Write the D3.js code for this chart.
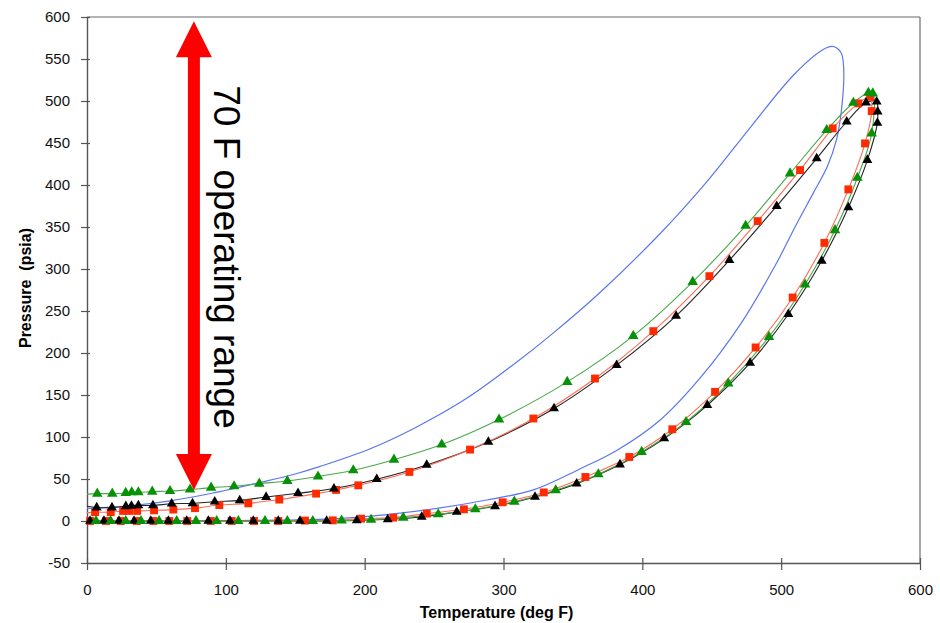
<!DOCTYPE html>
<html>
<head>
<meta charset="utf-8">
<script src="https://cdn.jsdelivr.net/npm/d3@7"></script>
<style>
  body { margin: 0; background: #fff; }
  svg text { font-family: "Liberation Sans", Arial, sans-serif; }
</style>
</head>
<body>
<script>
// measured loops: upper branch, then down the right side, then back along P=0
const redT = [5.8,17.1,26,30.3,36.1,48.3,62.2,77.8,95.3,116.2,138.5,165,179.4,195.4,232.2,275.9,321.5,365.9,407.9,448.3,483.1,513.6,537.1,555.6,564,
  565.2,560.4,548.4,531.1,508.3,481.6,452.4,421.6,390.6,359,329,299.4,271.5,244.7,220.6,197.4,177,157,137.8,120.3,104.2,89.1,72.2,59.3,47.8,35.8,24.3,13.7,2.2];
const redP = [10.5,10.5,12,12,12,12.7,13.6,15.3,19,21,25.5,32.6,37,42.5,58.4,85,122,169.6,226,291.5,357,417.8,467.4,497.2,505,
  488,449.5,394.8,331.1,266.1,206.6,153.7,109.2,76.2,52.4,34,22.3,13.9,8.8,4,2.8,0.8,0.5,0,0,0,0,0,0,0,0,0,0,0];

const blackT = [7,18,28,32,37,47.5,61,76,92,110,129,152,177.9,208.7,244.7,289.1,336.4,381.5,424.3,462.7,496.8,525.6,547.2,561.1,568.8,
  569.5,569.3,562.1,548.4,529.2,505.2,477.6,446.8,415.8,383.9,352.7,322.7,293.9,266.3,241.1,216.6,194.3,172.6,153.4,137.8,119.8,103,87.4,71.8,58.6,45.9,33.9,23,12.2,2.2];
const blackP = [16,16,17.5,18,18.5,18.5,20.5,21,23,24.5,28.5,33,38.6,49.7,66.7,94.1,133.9,185.5,244.2,310.5,374.9,431.7,475.3,497.9,499.1,
  487.2,474,429.7,373.3,309.7,246.2,188.2,137.8,98.2,67.2,44.5,28.6,17.5,10.7,4.8,2,0.8,0,0,0,0,0,0,0,0,0,0,0,0,0];

const greenT = [7.4,18.2,27.9,32.2,37,47,59.8,74.2,89.4,105.9,124.1,144.3,166.4,191.8,221.1,255.5,296.8,345.9,393.5,436.3,474.4,506.4,532.8,552,562.8,566,
  565.2,554.9,538.8,517.2,491.2,461.9,431.5,399.5,368.3,337.6,307.8,279.7,253,227.8,204.6,183.4,162.6,144.3,128.2,109,93.4,78.5,64.6,51.9,38.9,27.9,17,6.5];
const greenP = [32.6,32.6,33.4,34.2,34.2,35,35.7,37.4,39.7,41.3,44.5,47.6,53,60.4,73,91,120.8,165.6,220.4,284.7,351.4,413.8,465.4,497.9,509.8,509,
  461.5,408.6,346.3,281.6,219.2,163.7,117.9,82.2,55.6,36.6,23,13.9,8,4,1.5,0.5,0,0,0,0,0,0,0,0,0,0,0,0];

// pressure where each fitted line meets the T=0 axis on the upper branch
const lineStartP = { red: 10, black: 17.5, green: 32 };

// model curve (no markers)
const blueT = [0,30,60,90,125,150,168,204,237.5,273.5,307,336,369.5,412.7,447,478,509,530,537,543,545,544,540,533,523,510,496,471,441.5,412.7,381.5,355,321.5,288,252,216,180,140,90,40,0];
const blueP = [15,18,24,33,46,56,65,86,112,146,186,224,272,342,405,469,531,561,565,558,540,498,455,421,390,350,305,235,170,120,84,62,37,25,15,7.6,2.8,1,0.3,0,0];

const xTicks = [0,100,200,300,400,500,600];
const yTicks = [-50,0,50,100,150,200,250,300,350,400,450,500,550,600];

// operating range arrow
const arrowT = 77;
const arrowLow = 37;
const arrowHigh = 595;
const arrowLabel = "70 F operating range";

const W = 940, H = 623;
const plot = {left: 87, right: 920, top: 17, bottom: 563};

const x = d3.scaleLinear().domain([0, 600]).range([plot.left, plot.right]);
const y = d3.scaleLinear().domain([-50, 600]).range([plot.bottom, plot.top]);

const svg = d3.select("body").append("svg")
  .attr("width", W)
  .attr("height", H);

// frame top/right
svg.append("line")
  .attr("x1", x(0)).attr("x2", x(600)).attr("y1", y(600)).attr("y2", y(600))
  .attr("stroke", "#6b6b6b").attr("stroke-width", 1.2);
svg.append("line")
  .attr("x1", x(600)).attr("x2", x(600)).attr("y1", y(600)).attr("y2", y(-50))
  .attr("stroke", "#6b6b6b").attr("stroke-width", 1.2);

const plain = d => String(d);

const xAxis = svg.append("g")
  .attr("transform", `translate(0,${plot.bottom})`)
  .call(d3.axisBottom(x).tickValues(xTicks).tickFormat(plain).tickSizeInner(7).tickSizeOuter(0).tickPadding(14));
xAxis.selectAll(".tick line").attr("y1", -5);

const yAxis = svg.append("g")
  .attr("transform", `translate(${plot.left},0)`)
  .call(d3.axisLeft(y).tickValues(yTicks).tickFormat(plain).tickSizeInner(6).tickSizeOuter(0).tickPadding(11));
yAxis.selectAll(".tick line").attr("x1", 3);

svg.selectAll(".domain").attr("stroke", "#555").attr("stroke-width", 1.4);
svg.selectAll(".tick line").attr("stroke", "#555").attr("stroke-width", 1.2);
svg.selectAll(".tick text").attr("font-size", 15).attr("fill", "#111")
  .style("font-family", "'Liberation Sans', Arial, sans-serif");

svg.append("text")
  .attr("x", (plot.left + plot.right) / 2 - 7)
  .attr("y", 618)
  .attr("text-anchor", "middle")
  .attr("font-size", 16)
  .attr("font-weight", "bold")
  .text("Temperature (deg F)");

svg.append("text")
  .attr("transform", `translate(31,${(plot.top + plot.bottom) / 2 - 2}) rotate(-90)`)
  .attr("text-anchor", "middle")
  .attr("font-size", 16)
  .attr("font-weight", "bold")
  .style("white-space", "pre")
  .text("Pressure  (psia)");

const zip = (ts, ps) => ts.map((t, i) => [t, ps[i]]);

const line = d3.line()
  .x(d => x(d[0]))
  .y(d => y(d[1]))
  .curve(d3.curveCatmullRom.alpha(0.5));

// blue model loop
svg.append("path")
  .attr("d", line(zip(blueT, blueP)))
  .attr("fill", "none")
  .attr("stroke", "#5b76f0")
  .attr("stroke-width", 1.2);

const series = [
  {key: "black", pts: zip(blackT, blackP), stroke: "#222", fill: "#000", shape: d3.symbolTriangle, size: 42},
  {key: "red", pts: zip(redT, redP), stroke: "#ff6a55", fill: "#ff2a00", shape: d3.symbolSquare, size: 62},
  {key: "green", pts: zip(greenT, greenP), stroke: "#4aa84a", fill: "#079107", shape: d3.symbolTriangle, size: 48}
];

series.forEach(s => {
  const pts = [[0, lineStartP[s.key]], ...s.pts, [0, 0]];
  svg.append("path")
    .attr("d", line(pts))
    .attr("fill", "none")
    .attr("stroke", s.stroke)
    .attr("stroke-width", 1.1);
});

// markers on top of all lines
const drawOrder = ["red", "black", "green"];
drawOrder.forEach(k => {
  const s = series.find(d => d.key === k);
  svg.append("g")
    .selectAll("path")
    .data(s.pts)
    .enter().append("path")
    .attr("transform", d => `translate(${x(d[0])},${y(d[1])})`)
    .attr("d", d3.symbol().type(s.shape).size(s.size))
    .attr("fill", s.fill);
});

// red double arrow
const ax = x(arrowT);
const headLen = 36, headHalf = 18, shaftHalf = 6;
const yTop = y(arrowHigh), yBot = y(arrowLow);
const arrowPath = [
  [ax, yTop], [ax + headHalf, yTop + headLen], [ax + shaftHalf, yTop + headLen],
  [ax + shaftHalf, yBot - headLen], [ax + headHalf, yBot - headLen], [ax, yBot],
  [ax - headHalf, yBot - headLen], [ax - shaftHalf, yBot - headLen],
  [ax - shaftHalf, yTop + headLen], [ax - headHalf, yTop + headLen]
];
svg.append("path")
  .attr("d", d3.line()(arrowPath) + "Z")
  .attr("fill", "#ff0000");

svg.append("text")
  .attr("transform", `translate(${ax + 20},${y(arrowHigh) + 64}) rotate(90)`)
  .attr("font-size", 37)
  .attr("fill", "#000")
  .text(arrowLabel);
</script>
</body>
</html>
